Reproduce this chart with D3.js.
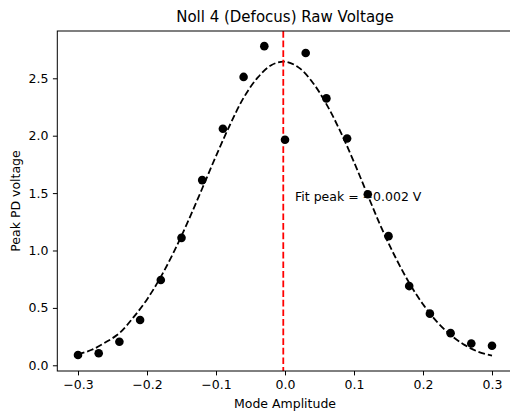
<!DOCTYPE html>
<html>
<head>
<meta charset="utf-8">
<script src="https://cdn.jsdelivr.net/npm/d3@7"></script>
<style>
  body { margin: 0; background: #fff; }
  svg { display: block; }
  text { font-family: "DejaVu Sans", sans-serif; fill: #000; }
</style>
</head>
<body>
<svg id="chart" width="510" height="412"></svg>
<script>
// Measured data points (Mode Amplitude vs Peak PD voltage)
const amplitudes = [-0.30, -0.27, -0.24, -0.21, -0.18, -0.15, -0.12, -0.09, -0.06, -0.03, 0.00,
                    0.03, 0.06, 0.09, 0.12, 0.15, 0.18, 0.21, 0.24, 0.27, 0.30];
const voltages = [0.09, 0.105, 0.205, 0.395, 0.743, 1.11, 1.613, 2.06, 2.512, 2.78, 1.965,
                  2.72, 2.325, 1.975, 1.49, 1.125, 0.69, 0.45, 0.28, 0.19, 0.17];

// Fit curve
const fitX = [-0.30, -0.28, -0.26, -0.24, -0.22, -0.20, -0.18, -0.16, -0.14, -0.12, -0.10, -0.08,
              -0.06, -0.04, -0.02, 0.00, 0.02, 0.04, 0.06, 0.08, 0.10, 0.12, 0.14, 0.16, 0.18,
              0.20, 0.22, 0.24, 0.26, 0.28, 0.30];
const fitY = [0.095, 0.135, 0.20, 0.28, 0.415, 0.574, 0.77, 1.001, 1.261, 1.54, 1.823, 2.091,
              2.33, 2.503, 2.614, 2.645, 2.593, 2.464, 2.275, 2.04, 1.77, 1.48, 1.194, 0.941, 0.718,
              0.531, 0.381, 0.265, 0.178, 0.118, 0.085];

const fitPeak = -0.0025;
const fitLabel = "Fit peak = \u22120.002 V";

const xTicks = [-0.3, -0.2, -0.1, 0.0, 0.1, 0.2, 0.3];
const yTicks = [0.0, 0.5, 1.0, 1.5, 2.0, 2.5];

const title = "Noll 4 (Defocus) Raw Voltage";
const xLabel = "Mode Amplitude";
const yLabel = "Peak PD voltage";

const svg = d3.select("#chart");
const L = 57.3, R = 512.7, T = 31, B = 371;

const x = d3.scaleLinear().domain([-0.33, 0.33]).range([L, R]);
const y = d3.scaleLinear().domain([-0.0497, 2.912]).range([B, T]);

svg.append("defs").append("clipPath").attr("id", "clip")
  .append("rect").attr("x", L).attr("y", T).attr("width", R - L).attr("height", B - T);

const plot = svg.append("g").attr("clip-path", "url(#clip)");

// fit curve
const line = d3.line().x((d, i) => x(fitX[i])).y(d => y(d)).curve(d3.curveCatmullRom);
plot.append("path")
  .attr("d", line(fitY))
  .attr("fill", "none")
  .attr("stroke", "#000")
  .attr("stroke-width", 1.8)
  .attr("stroke-dasharray", "6.7,2.9");

// red vertical line
plot.append("line")
  .attr("x1", x(fitPeak)).attr("x2", x(fitPeak))
  .attr("y1", T).attr("y2", B)
  .attr("stroke", "#ff0000")
  .attr("stroke-width", 1.8)
  .attr("stroke-dasharray", "6.7,2.9");

// annotation
svg.append("text")
  .attr("x", x(0.0145)).attr("y", 201)
  .attr("font-size", "12.5px")
  .text(fitLabel);

// points
plot.selectAll("circle.pt").data(voltages).enter().append("circle")
  .attr("class", "pt")
  .attr("cx", (d, i) => x(amplitudes[i]))
  .attr("cy", d => y(d))
  .attr("r", 4.3)
  .attr("fill", "#000");

// axes
const fmt = d => d3.format(".1f")(d).replace("-", "\u2212");
const xAxis = svg.append("g").attr("transform", `translate(0,${B})`)
  .call(d3.axisBottom(x).tickValues(xTicks).tickFormat(fmt).tickSize(4.4).tickPadding(4.4));
const yAxis = svg.append("g").attr("transform", `translate(${L},0)`)
  .call(d3.axisLeft(y).tickValues(yTicks).tickFormat(fmt).tickSize(4.4).tickPadding(4.4));
[xAxis, yAxis].forEach(a => {
  a.select(".domain").remove();
  a.selectAll(".tick line").attr("stroke", "#000").attr("stroke-width", 1);
  a.selectAll(".tick text").attr("font-size", "12.5px").attr("fill", "#000")
    .attr("font-family", "DejaVu Sans, sans-serif");
});

// spines
svg.append("rect")
  .attr("x", L).attr("y", T).attr("width", R - L).attr("height", B - T)
  .attr("fill", "none").attr("stroke", "#000").attr("stroke-width", 1);

// title & labels
svg.append("text").attr("x", (L + R) / 2).attr("y", 22).attr("text-anchor", "middle")
  .attr("font-size", "15px").text(title);
svg.append("text").attr("x", (L + R) / 2).attr("y", 408).attr("text-anchor", "middle")
  .attr("font-size", "12.5px").text(xLabel);
svg.append("text").attr("transform", `translate(20,${(T + B) / 2}) rotate(-90)`)
  .attr("text-anchor", "middle").attr("font-size", "12.5px").text(yLabel);
</script>
</body>
</html>
